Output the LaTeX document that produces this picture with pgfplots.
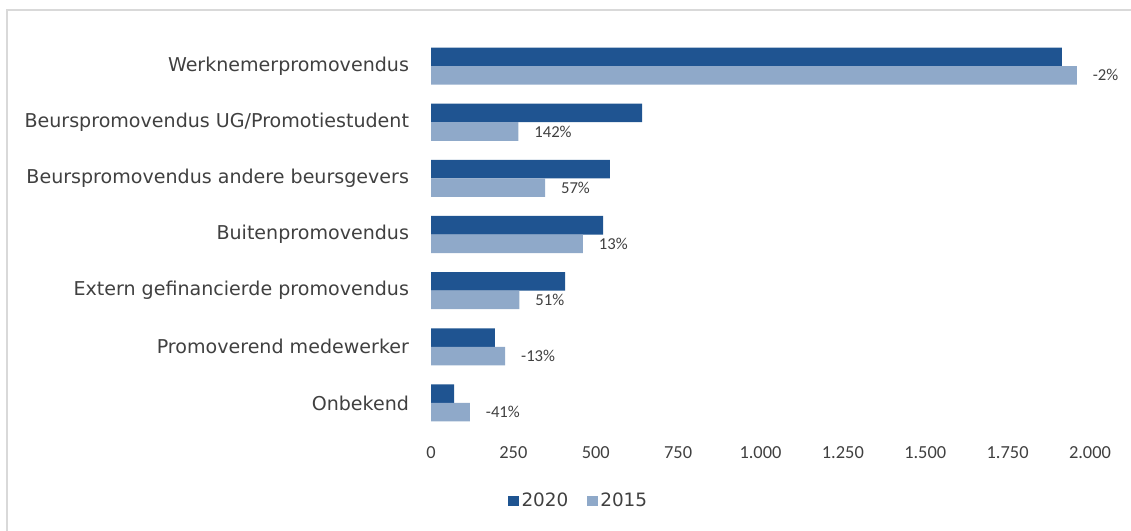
\documentclass[border=0pt]{standalone}
\usepackage{fontspec}
\setmainfont{DejaVu Sans}
\newfontfamily\carlito{Carlito}
\usepackage{pgfplots}
\usepackage{pgfplotstable}
\pgfplotsset{compat=1.18}
\definecolor{c2020}{RGB}{31,84,145}
\definecolor{c2015}{RGB}{143,169,201}
\definecolor{txt}{RGB}{64,64,64}
\definecolor{frame}{RGB}{217,217,217}
\pgfplotstableread{
y v2020 v2015 lbl
6 1915 1960 -2
5 641 265 142
4 543 346 57
3 522 461 13
2 407 268 51
1 194 225 -13
0 70 118 -41
}\data
\begin{document}
\begin{tikzpicture}
\useasboundingbox (0,0) rectangle (848.25pt,-398.25pt);
\draw[frame, line width=0.8pt] (5.25pt,-7.5pt) rectangle (860pt,-410pt);
\begin{axis}[
  at={(323.25pt,-323.25pt)}, anchor=south west,
  scale only axis, width=494.25pt, height=294.75pt,
  xmin=0, xmax=2000, ymin=-0.5, ymax=6.5,
  axis line style={draw=none},
  major tick length=0pt,
  xtick={0,250,...,2000},
  ytick={0,...,6},
  yticklabels={Onbekend,Promoverend medewerker,Extern gefinancierde promovendus,Buitenpromovendus,Beurspromovendus andere beursgevers,Beurspromovendus UG/Promotiestudent,Werknemerpromovendus},
  yticklabel style={font=\fontsize{14.3pt}{16pt}\selectfont, text=txt, anchor=east, xshift=-13pt},
  xticklabel style={font=\carlito\fontsize{13.8pt}{16pt}\selectfont, text=txt, anchor=north, yshift=-8pt},
  /pgf/number format/.cd, 1000 sep={.}, assume math mode=true,
  /pgfplots/.cd,
  xbar, bar width=13.9pt,
  legend style={at={(0.2246,-0.178)}, anchor=center, draw=none, fill=none,
    legend columns=2, font=\fontsize{13.8pt}{16pt}\selectfont, text=txt,
    /tikz/every even column/.append style={column sep=12pt},
    nodes={inner sep=2pt}},
  legend image code/.code={\fill[#1] (0pt,-4pt) rectangle (8pt,4pt);},
]
\addplot[fill=c2020, draw=none, bar shift=6.95pt] table[x=v2020, y=y] {\data};
\addplot[fill=c2015, draw=none, bar shift=-6.95pt,
  point meta=explicit symbolic,
  nodes near coords={\pgfplotspointmeta\%},
  nodes near coords style={font=\carlito\fontsize{12.5pt}{14pt}\selectfont, text=txt, anchor=west, xshift=8.5pt}
] table[x=v2015, y=y, meta=lbl] {\data};
\legend{2020,2015}
\end{axis}
\end{tikzpicture}
\end{document}
